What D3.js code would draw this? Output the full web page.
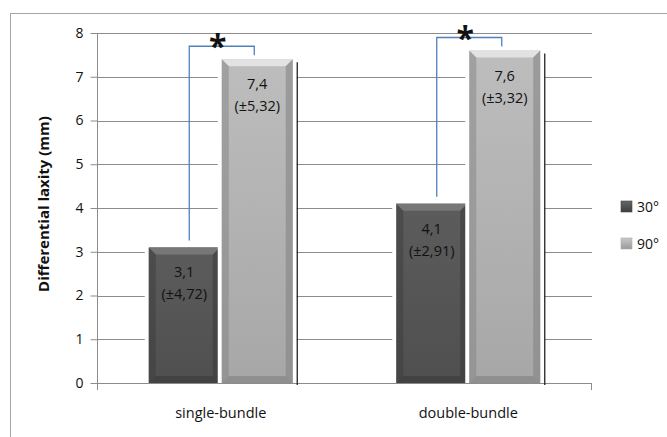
<!DOCTYPE html>
<html><head><meta charset="utf-8">
<script src="https://cdn.jsdelivr.net/npm/d3@7"></script>
<style>body{margin:0;background:#fff}svg{display:block;font-family:'Open Sans',sans-serif}</style>
</head><body><svg id="c" width="667" height="437"></svg>
<script>
const categories = ["single-bundle", "double-bundle"];
const series = ["30°", "90°"];
const values30 = [3.1, 4.1];
const values90 = [7.4, 7.6];
const sd30 = ["±4,72", "±2,91"];
const sd90 = ["±5,32", "±3,32"];
const yTicks = [0,1,2,3,4,5,6,7,8];

const svg = d3.select("#c");
const defs = svg.append("defs");
function grad(id, stops, vertical){
  const g = defs.append("linearGradient").attr("id", id).attr("x1",0).attr("y1",0)
    .attr("x2", vertical?0:1).attr("y2", vertical?1:0);
  stops.forEach(s => g.append("stop").attr("offset", s[0]).attr("stop-color", s[1]));
}
grad("dark", [[0,"#5c5c5c"],[1,"#4f4f4f"]], true);
grad("light", [[0,"#bdbdbd"],[1,"#a7a7a7"]], true);
grad("legDark", [[0,"#666"],[1,"#3e3e3e"]], true);
grad("legLight", [[0,"#c8c8c8"],[1,"#9a9a9a"]], true);

// outer frame
svg.append("rect").attr("x",10.5).attr("y",13.5).attr("width",700).attr("height",500)
  .attr("fill","none").attr("stroke","#a6a6a6").attr("stroke-width",1);

const x0 = d3.scaleBand().domain(categories).range([97, 592]);
const y = d3.scaleLinear().domain([0, 8]).range([383, 33]);

// gridlines
svg.append("g").selectAll("line").data(yTicks.filter(d=>d>0)).join("line")
  .attr("x1", 97).attr("x2", 592).attr("y1", d=>Math.round(y(d))+0.5).attr("y2", d=>Math.round(y(d))+0.5)
  .attr("stroke","#8c8c8c").attr("stroke-width",1);

// y axis
const yAxis = d3.axisLeft(y).tickValues(yTicks).tickSize(7).tickPadding(7).tickFormat(d3.format("d"));
const gy = svg.append("g").attr("transform","translate(97.5,0)").call(yAxis);
gy.select(".domain").attr("stroke","#8c8c8c").attr("d","M0,33V383");
gy.selectAll(".tick line").attr("stroke","#8c8c8c");
gy.selectAll(".tick text").attr("font-size",14).attr("fill","#111").attr("font-family","'Open Sans',sans-serif");

// x axis
svg.append("line").attr("x1",97).attr("x2",592).attr("y1",383.5).attr("y2",383.5).attr("stroke","#8c8c8c");
svg.append("line").attr("x1",591.5).attr("x2",591.5).attr("y1",383).attr("y2",390).attr("stroke","#8c8c8c");
svg.append("line").attr("x1",97.5).attr("x2",97.5).attr("y1",383).attr("y2",390).attr("stroke","#8c8c8c");
svg.selectAll(".xl").data(categories).join("text").attr("class","xl")
  .attr("x", d=>x0(d)+x0.bandwidth()/2).attr("y", 418).attr("text-anchor","middle")
  .attr("font-size",14.5).attr("fill","#111").text(d=>d);

// y title
svg.append("text").attr("transform","translate(49,204) rotate(-90)").attr("text-anchor","middle")
  .attr("font-size",15).attr("font-weight","bold").attr("fill","#111").text("Differential laxity (mm)");

// bars
const barW = 71;
const data = [];
categories.forEach((c,i)=>{
  const cx = x0(c)+x0.bandwidth()/2;
  data.push({cat:c, s:0, v:values30[i], sd:sd30[i], x: cx-1-barW, fill:"url(#dark)", hi:"#7a7a7a", lo:"#3a3a3a"});
  data.push({cat:c, s:1, v:values90[i], sd:sd90[i], x: cx+1, fill:"url(#light)", hi:"#e6e6e6", lo:"#7f7f7f"});
});
const bars = svg.append("g").selectAll("g").data(data).join("g");
bars.append("rect").attr("x",d=>d.x-4).attr("y",d=>y(d.v)-3).attr("width",barW+8).attr("height",d=>y(0)-y(d.v)+3)
  .attr("fill","#fff");
bars.append("rect").attr("x",d=>d.x).attr("y",d=>y(d.v)).attr("width",barW).attr("height",d=>y(0)-y(d.v))
  .attr("fill",d=>d.fill);
const b = 7;
bars.append("path").attr("d",d=>{const x=d.x,t=y(d.v);return `M${x},${t}H${x+barW}L${x+barW-b},${t+b}H${x+b}Z`;})
  .attr("fill",d=>d.hi).attr("opacity",0.9);
bars.append("path").attr("d",d=>{const x=d.x,t=y(d.v),bt=y(0);return `M${x},${t}L${x+b},${t+b}V${bt-b}L${x},${bt}Z`;})
  .attr("fill",d=>d.lo).attr("opacity",0.45);
bars.append("path").attr("d",d=>{const x=d.x+barW,t=y(d.v),bt=y(0);return `M${x},${t}L${x-b},${t+b}V${bt-b}L${x},${bt}Z`;})
  .attr("fill",d=>d.lo).attr("opacity",0.55);
bars.append("path").attr("d",d=>{const x=d.x,bt=y(0);return `M${x},${bt}L${x+b},${bt-b}H${x+barW-b}L${x+barW},${bt}Z`;})
  .attr("fill",d=>d.lo).attr("opacity",0.6);
bars.filter(d=>d.s===1).append("line").attr("x1",d=>d.x+barW+4.5).attr("x2",d=>d.x+barW+4.5)
  .attr("y1",d=>y(d.v)+3).attr("y2",y(0)+2).attr("stroke","#222").attr("stroke-width",1.3);

// labels
bars.append("text").attr("x",d=>d.x+barW/2).attr("y",d=>y(d.v)+30).attr("text-anchor","middle")
  .attr("font-size",14.5).attr("fill","#111").text(d=>String(d.v).replace(".",","));
bars.append("text").attr("x",d=>d.x+barW/2).attr("y",d=>y(d.v)+52).attr("text-anchor","middle")
  .attr("font-size",14.5).attr("fill","#111").text(d=>"("+d.sd+")");

// significance brackets
const brackets = [
  {cat:"single-bundle", low:values30[0], high:values90[0]},
  {cat:"double-bundle", low:values30[1], high:values90[1]}
];
brackets.forEach(br=>{
  const cx = x0(br.cat)+x0.bandwidth()/2;
  const xl = cx-31.5, xr = cx+33.5;
  const top = y(br.high)-13;
  svg.append("path").attr("d",`M${xl},${y(br.low)-7}V${top}H${xr}V${top+9}`)
    .attr("fill","none").attr("stroke","#4f81bd").attr("stroke-width",1.3);
  svg.append("text").attr("x",cx-3).attr("y",top+12).attr("text-anchor","middle")
    .attr("font-size",32).attr("font-weight","bold").attr("fill","#111").text("*");
});

// legend
const leg = svg.append("g").selectAll("g").data(series).join("g")
  .attr("transform",(d,i)=>`translate(621,${201+i*37})`);
leg.append("rect").attr("width",11).attr("height",11).attr("fill",(d,i)=>i?"url(#legLight)":"url(#legDark)")
  .attr("stroke",(d,i)=>i?"#aaa":"#444").attr("stroke-width",0.6);
leg.append("text").attr("x",16).attr("y",11).attr("font-size",14).attr("fill","#111").text(d=>d);
</script></body></html>
